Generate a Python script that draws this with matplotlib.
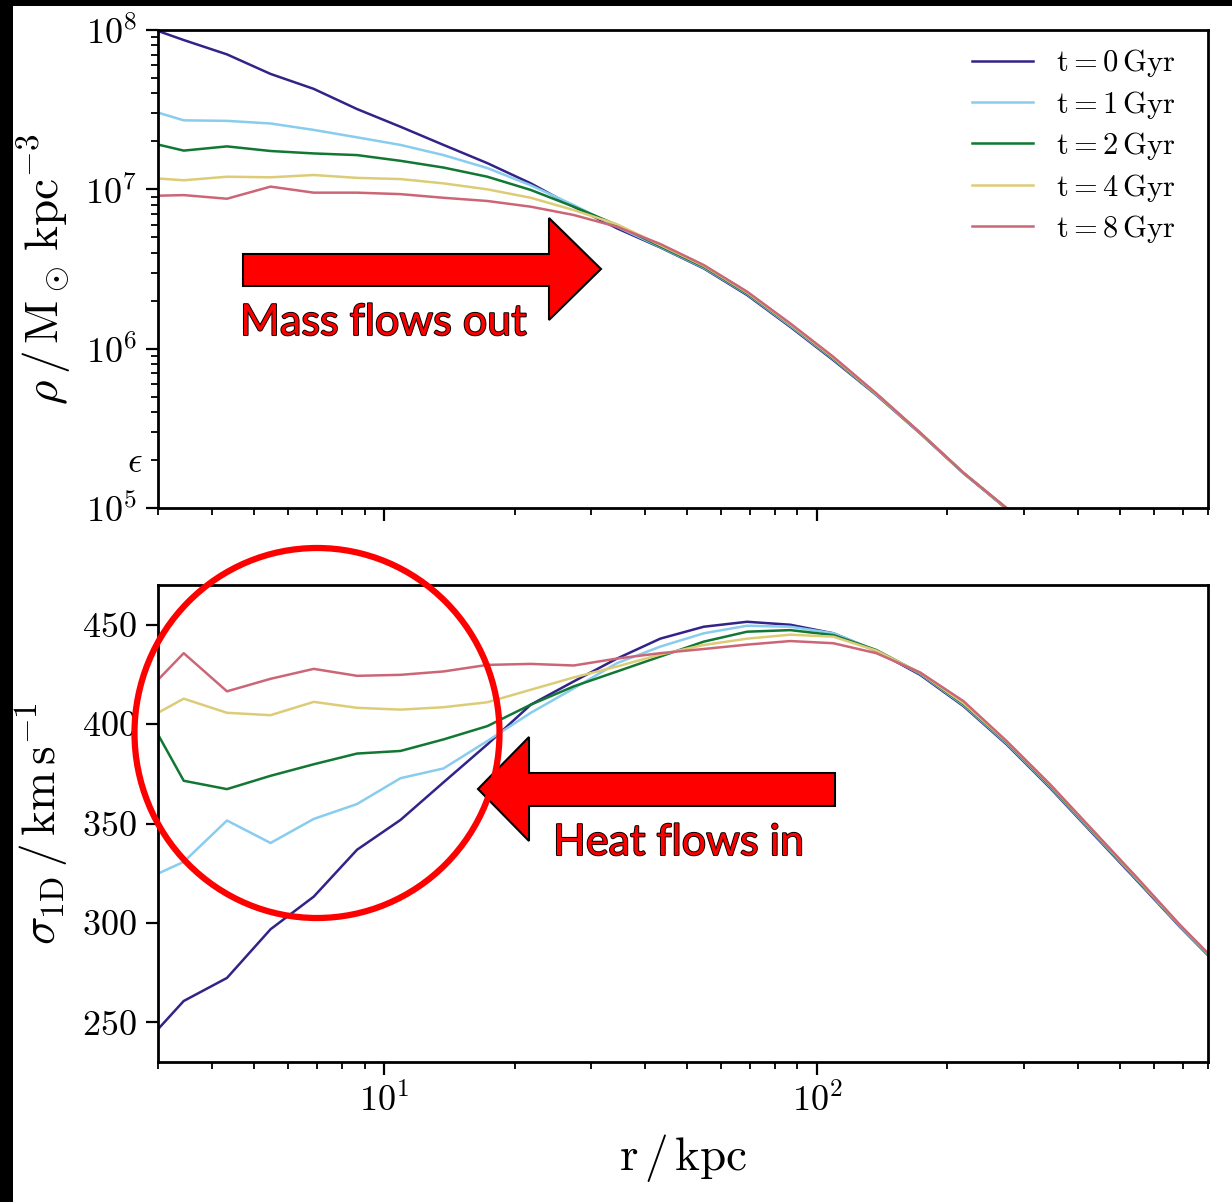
import matplotlib
matplotlib.use("Agg")
import matplotlib.pyplot as plt
import matplotlib.patches as mpatches
import matplotlib.patheffects as pe
from matplotlib.ticker import LogLocator, FuncFormatter
import numpy as np

plt.rcParams['font.family'] = 'serif'
plt.rcParams['font.serif'] = ['cmr10']
plt.rcParams['mathtext.fontset'] = 'cm'
plt.rcParams['axes.formatter.use_mathtext'] = True

# radial bins (kpc)
r_kpc = [3.0, 3.44, 4.33, 5.46, 6.87, 8.65, 10.9, 13.7, 17.3, 21.8, 27.4, 34.5, 43.4,
         54.7, 68.9, 86.7, 109, 137, 173, 218, 274, 345, 434, 547, 689, 867]

times = [0, 1, 2, 4, 8]
colors = ['#332288', '#88CCEE', '#117733', '#DDCC77', '#CC6677']

# density in 1e6 Msun / kpc^3
rho_t0 = [98.6, 86.5, 70.3, 53.0, 42.7, 31.9, 24.7, 19.0, 14.6, 10.9, 7.78, 5.69, 4.32,
          3.19, 2.17, 1.37, 0.847, 0.512, 0.294, 0.165, 0.0989, 0.0562, 0.0302, 0.0158, 0.0079, 0.0040]
rho_t1 = [30.3, 27.1, 26.9, 25.9, 23.6, 21.2, 19.0, 16.4, 13.6, 10.6, 7.96, 5.82, 4.35,
          3.22, 2.20, 1.39, 0.859, 0.515, 0.295, 0.165, 0.0991, 0.0563, 0.0302, 0.0158, 0.0079, 0.0040]
rho_t2 = [19.1, 17.5, 18.6, 17.4, 16.8, 16.4, 15.1, 13.7, 12.0, 9.91, 7.78, 5.97, 4.39,
          3.26, 2.22, 1.41, 0.867, 0.518, 0.296, 0.166, 0.0993, 0.0563, 0.0302, 0.0158, 0.0079, 0.0040]
rho_t4 = [11.7, 11.4, 12.0, 11.9, 12.3, 11.8, 11.6, 10.9, 10.0, 8.85, 7.41, 6.03, 4.47,
          3.31, 2.25, 1.42, 0.877, 0.520, 0.296, 0.166, 0.0995, 0.0564, 0.0302, 0.0158, 0.0079, 0.0040]
rho_t8 = [9.12, 9.20, 8.73, 10.4, 9.53, 9.53, 9.33, 8.85, 8.45, 7.78, 6.90, 5.82, 4.54,
          3.35, 2.28, 1.44, 0.889, 0.524, 0.297, 0.166, 0.100, 0.0565, 0.0303, 0.0158, 0.0079, 0.0040]

# 1D velocity dispersion (km/s)
sig_t0 = [246.5, 260.7, 272.3, 296.8, 313.2, 336.8, 351.8, 370.7, 389.8, 409.8, 421.5, 433, 443,
          449, 451.5, 450, 445.7, 436.8, 424.8, 409, 389.8, 368, 344.8, 321.5, 298, 276]
sig_t1 = [324.8, 330.7, 351.5, 340.2, 352.3, 359.8, 372.8, 377.7, 391.5, 405.7, 418, 430.7, 439,
          445.7, 449.5, 449, 445.7, 437, 425.3, 409.5, 390.3, 368.5, 345.3, 322, 298.3, 276.3]
sig_t2 = [394.8, 371.5, 367.3, 374, 379.8, 385.2, 386.5, 392.3, 399, 409.8, 419, 426.5, 434,
          441.5, 446.5, 447.3, 444.8, 437.3, 425.6, 410, 390.8, 369, 345.8, 322.3, 298.6, 276.5]
sig_t4 = [405.7, 412.8, 405.7, 404.5, 411.2, 408.2, 407.3, 408.5, 411, 417.3, 423.5, 429, 435,
          439.8, 443, 445, 444, 437, 425.8, 410.5, 391.2, 369.5, 346.2, 322.6, 298.8, 276.7]
sig_t8 = [422.3, 435.7, 416.5, 422.8, 427.8, 424.3, 424.8, 426.5, 429.8, 430.3, 429.5, 433, 435.7,
          437.8, 440, 441.8, 440.7, 435.7, 426, 411.5, 391.5, 369.8, 346.5, 323, 299, 277]

rho_all = [rho_t0, rho_t1, rho_t2, rho_t4, rho_t8]
sig_all = [sig_t0, sig_t1, sig_t2, sig_t4, sig_t8]

W, H = 1232, 1202
fig = plt.figure(figsize=(W / 100, H / 100), dpi=100, facecolor='black')


def fx(x, y):
    return (x / W, 1 - y / H)


# white page inside the black screenshot border
fig.add_artist(mpatches.Rectangle((13 / W, 0), 1 - 13 / W, 1 - 6 / H, transform=fig.transFigure,
                                  facecolor='white', edgecolor='none', zorder=-10))

ax1 = fig.add_axes([158 / W, 1 - 508 / H, 1050 / W, 478 / H])
ax2 = fig.add_axes([158 / W, 1 - 1062 / H, 1050 / W, 477 / H], sharex=ax1)

r = np.array(r_kpc)
for t, c, rho, sig in zip(times, colors, rho_all, sig_all):
    ax1.plot(r, np.array(rho) * 1e6, color=c, lw=1.8, label=r'$\mathrm{t}=%d\,\mathrm{Gyr}$' % t)
    ax2.plot(r, sig, color=c, lw=1.8)

ax1.set_xscale('log')
ax1.set_yscale('log')
ax1.set_xlim(3.0, 800)
ax1.set_ylim(1e5, 1e8)
ax2.set_ylim(230, 470)
ax2.set_yticks([250, 300, 350, 400, 450])

ax1.yaxis.set_minor_locator(LogLocator(base=10, subs=np.arange(2, 10)))
ax1.yaxis.set_minor_formatter(FuncFormatter(lambda v, p: r'$\epsilon$' if abs(v - 2e5) < 1 else ''))
plt.setp(ax1.get_xticklabels(), visible=False)

for ax in (ax1, ax2):
    for s in ax.spines.values():
        s.set_linewidth(2)
    ax.tick_params(which='major', length=9, width=1.6, labelsize=26, direction='out', pad=6)
    ax.tick_params(which='minor', length=5, width=1.3, labelsize=26, direction='out', pad=6)

ax1.set_ylabel(r'$\rho\,/\,\mathrm{M_\odot\,kpc^{-3}}$', fontsize=34, labelpad=8)
ax2.set_ylabel(r'$\sigma_{\rm 1D}\,/\,\mathrm{km\,s^{-1}}$', fontsize=34, labelpad=8)
ax2.set_xlabel(r'$\mathrm{r\,/\,kpc}$', fontsize=34, labelpad=10)

ax1.legend(loc='upper right', bbox_to_anchor=((1187 - 158) / 1050, 1 - 5 / 478), borderaxespad=0,
           frameon=False, fontsize=22, handlelength=2.0, handletextpad=0.75, labelspacing=0.31)

# annotations drawn on top of the axes
arrow_out = [(243, 254), (549, 254), (549, 218), (601, 269), (549, 320), (549, 286), (243, 286)]
arrow_in = [(835, 773), (529, 773), (529, 737), (478, 789), (529, 841), (529, 806), (835, 806)]
for pts in (arrow_out, arrow_in):
    fig.add_artist(mpatches.Polygon([fx(*p) for p in pts], closed=True, transform=fig.transFigure,
                                    facecolor='#FF0000', edgecolor='black', lw=1.5, zorder=10))

fig.add_artist(mpatches.Ellipse(fx(317, 733), 365 / W, 370 / H, transform=fig.transFigure,
                                facecolor='none', edgecolor='#FF0000', lw=4.5, zorder=10))

outline = [pe.withStroke(linewidth=1.4, foreground='black')]
fig.text(*fx(240, 323), 'Mass flows out', color='#FF0000', fontsize=31, family='Lato',
         ha='left', va='center', path_effects=outline, zorder=11)
fig.text(*fx(553, 843), 'Heat flows in', color='#FF0000', fontsize=31, family='Lato',
         ha='left', va='center', path_effects=outline, zorder=11)

fig.savefig('out.png', dpi=100, facecolor=fig.get_facecolor())
